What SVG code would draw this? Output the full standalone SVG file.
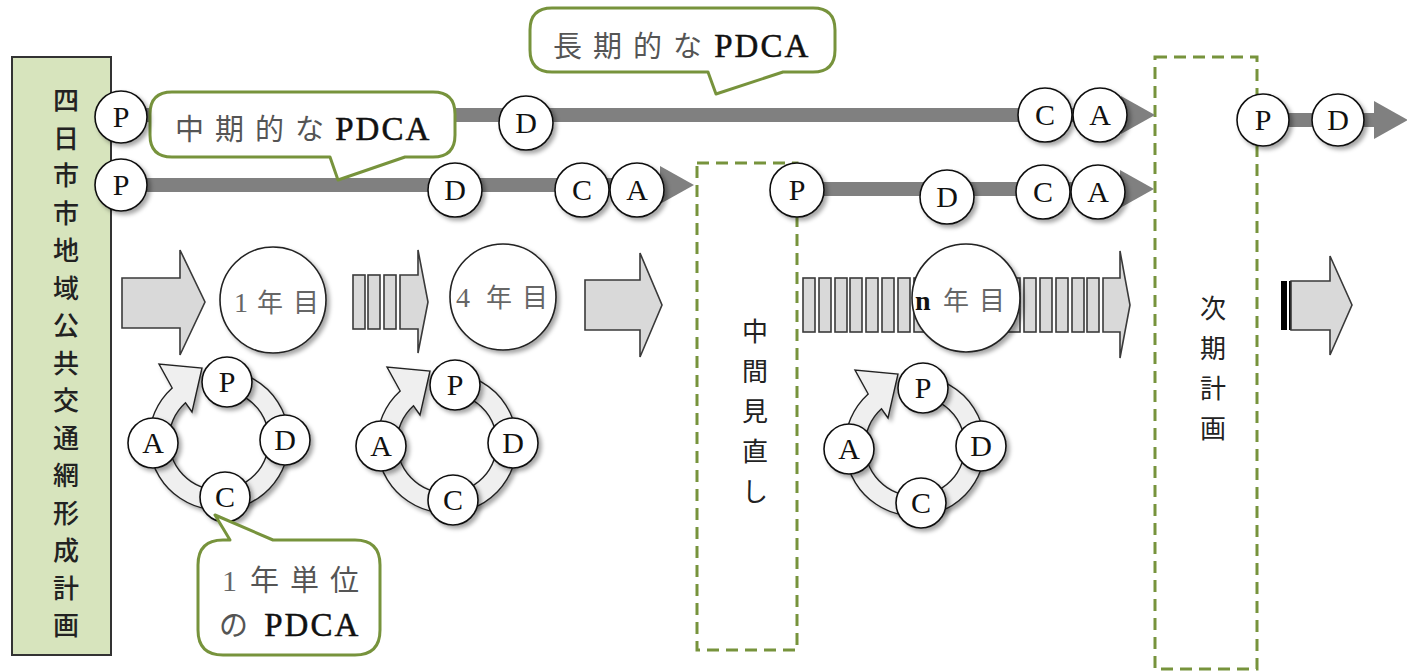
<svg xmlns="http://www.w3.org/2000/svg" xmlns:xlink="http://www.w3.org/1999/xlink" width="1407" height="672" viewBox="0 0 1407 672">
<style>
.bg{fill:#ffffff}
.lc{fill:#ffffff;stroke:#111;stroke-width:1.6;filter:url(#sh)}
.big{fill:#ffffff;stroke:#222;stroke-width:1.6;filter:url(#sh)}
.lt{font-family:"Liberation Serif",serif;font-size:30px;fill:#111;text-anchor:middle}
.line{stroke:#808080;stroke-width:14;fill:none;stroke-linecap:butt;marker-end:url(#ah)}
.blk{fill:#d9d9d9;stroke:#3a3a3a;stroke-width:1.6}
.dash{fill:none;stroke:#77933c;stroke-width:3;stroke-dasharray:12 7}
.bub{fill:#ffffff;stroke:#77933c;stroke-width:3;stroke-linejoin:round}
.jp{font-family:"Noto Sans CJK JP","Noto Sans",sans-serif;font-size:29px;fill:#555;letter-spacing:11px}
.jv{font-family:"Noto Sans CJK JP","Noto Sans",sans-serif;font-size:26px;fill:#222;text-anchor:middle}
.pd{font-family:"Liberation Serif",serif;font-size:33px;fill:#111;letter-spacing:2px;stroke:#111;stroke-width:0.5}
.yr{font-family:"Noto Sans CJK JP","Noto Sans",sans-serif;font-size:26px;fill:#666;letter-spacing:10px}
.num{font-family:"Liberation Serif",serif;font-size:28px;fill:#666}
.ring{fill:#efefef;stroke:#222;stroke-width:1.4;filter:url(#sh)}
</style>
<defs>
<filter id="sh" x="-30%" y="-30%" width="160%" height="160%">
<feDropShadow dx="3" dy="3" stdDeviation="2" flood-color="#000" flood-opacity="0.35"/>
</filter>
<marker id="ah" markerUnits="userSpaceOnUse" markerWidth="34" markerHeight="40" viewBox="0 0 34 40" refX="0" refY="20" orient="auto">
<path d="M0,1 L34,20 L0,39 Z" fill="#808080"/>
</marker>
<path id="ringshape" class="ring" d="M 6.1,-69.7 A 70 70 0 1 1 -46.8,-52.0 L -60,-76 L -17,-72 L -27,-28 L -33.5,-37.2 A 50 50 0 1 0 4.4,-49.8 Z"/>
</defs>
<rect class="bg" x="0" y="0" width="1407" height="672"/>

<g id="plan-box">
<rect x="12" y="57" width="99" height="598" fill="#d7e4bd" stroke="#333" stroke-width="2"/>
<text class="jv" style="font-weight:500"><tspan x="66" y="110">四</tspan><tspan x="66" y="148">日</tspan><tspan x="66" y="185">市</tspan><tspan x="66" y="223">市</tspan><tspan x="66" y="260">地</tspan><tspan x="66" y="298">域</tspan><tspan x="66" y="335">公</tspan><tspan x="66" y="373">共</tspan><tspan x="66" y="410">交</tspan><tspan x="66" y="448">通</tspan><tspan x="66" y="485">網</tspan><tspan x="66" y="523">形</tspan><tspan x="66" y="560">成</tspan><tspan x="66" y="598">計</tspan><tspan x="66" y="635">画</tspan></text>
</g>

<g id="midterm-review">
<rect class="dash" x="697" y="163" width="100" height="487"/>
<text class="jv"><tspan x="755" y="341">中</tspan><tspan x="755" y="381">間</tspan><tspan x="755" y="421">見</tspan><tspan x="755" y="461">直</tspan><tspan x="755" y="501">し</tspan></text>
</g>

<g id="next-plan">
<rect class="dash" x="1155" y="57" width="102" height="612"/>
<text class="jv"><tspan x="1213" y="318">次</tspan><tspan x="1213" y="358">期</tspan><tspan x="1213" y="398">計</tspan><tspan x="1213" y="438">画</tspan></text>
</g>

<g id="connectors">
<line class="line" x1="121" y1="115" x2="1121" y2="115"/>
<line class="line" x1="121" y1="185" x2="660" y2="185"/>
<line class="line" x1="797" y1="189" x2="1120" y2="189"/>
<line class="line" x1="1263" y1="120" x2="1374" y2="120"/>
</g>

<g id="long-term-bubble">
<path class="bub" d="M 552,8 H 813 Q 835,8 835,30 V 50 Q 835,72 813,72 H 783 L 716,94 L 708,72 H 552 Q 530,72 530,50 V 30 Q 530,8 552,8 Z"/>
<text y="57"><tspan class="jp" x="553">長期的な</tspan><tspan class="pd" x="704"> PDCA</tspan></text>
</g>

<g id="mid-term-bubble">
<path class="bub" d="M 172,92 H 433 Q 455,92 455,114 V 135 Q 455,157 433,157 H 405 L 338,180 L 330,157 H 172 Q 150,157 150,135 V 114 Q 150,92 172,92 Z"/>
<text y="140"><tspan class="jp" x="175">中期的な</tspan><tspan class="pd" x="325"> PDCA</tspan></text>
</g>

<g id="row1-nodes">
<circle class="lc" cx="121" cy="117" r="26"/><text class="lt" x="121" y="127">P</text>
<circle class="lc" cx="526" cy="123" r="27"/><text class="lt" x="526" y="133">D</text>
<circle class="lc" cx="1045" cy="115" r="27"/><text class="lt" x="1045" y="125">C</text>
<circle class="lc" cx="1100" cy="115" r="27"/><text class="lt" x="1100" y="125">A</text>
</g>
<g id="row2-nodes">
<circle class="lc" cx="121" cy="185" r="26"/><text class="lt" x="121" y="195">P</text>
<circle class="lc" cx="455" cy="190" r="27"/><text class="lt" x="455" y="200">D</text>
<circle class="lc" cx="582" cy="190" r="27"/><text class="lt" x="582" y="200">C</text>
<circle class="lc" cx="637" cy="190" r="27"/><text class="lt" x="637" y="200">A</text>
</g>
<g id="row3-nodes">
<circle class="lc" cx="797" cy="190" r="27"/><text class="lt" x="797" y="200">P</text>
<circle class="lc" cx="947" cy="197" r="27"/><text class="lt" x="947" y="207">D</text>
<circle class="lc" cx="1043" cy="192" r="27"/><text class="lt" x="1043" y="202">C</text>
<circle class="lc" cx="1098" cy="192" r="27"/><text class="lt" x="1098" y="202">A</text>
</g>
<g id="row4-nodes">
<circle class="lc" cx="1263" cy="120" r="26"/><text class="lt" x="1263" y="130">P</text>
<circle class="lc" cx="1338" cy="120" r="26"/><text class="lt" x="1338" y="130">D</text>
</g>

<g id="year1">
<path class="blk" d="M122,278 H180 V250 L205,302 L180,355 V328 H122 Z"/>
<circle class="big" cx="273" cy="300" r="53"/>
<text y="312"><tspan class="num" x="234">1 </tspan><tspan class="yr" x="257">年目</tspan></text>
</g>

<g id="year4">
<rect class="blk" x="353" y="275" width="12" height="54"/>
<rect class="blk" x="368" y="275" width="12" height="54"/>
<rect class="blk" x="384" y="275" width="12" height="54"/>
<path class="blk" d="M400,275 H418 V250 L428,302 L418,353 V329 H400 Z"/>
<circle class="big" cx="503" cy="297" r="53"/>
<text y="307"><tspan class="num" x="456">4 </tspan><tspan class="yr" x="486">年目</tspan></text>
<path class="blk" d="M585,280 H640 V253 L662,305 L640,357 V330 H585 Z"/>
</g>

<g id="yearn">
<rect class="blk" x="803" y="278" width="12" height="54"/>
<rect class="blk" x="819" y="278" width="12" height="54"/>
<rect class="blk" x="835" y="278" width="12" height="54"/>
<rect class="blk" x="850" y="278" width="12" height="54"/>
<rect class="blk" x="866" y="278" width="12" height="54"/>
<rect class="blk" x="882" y="278" width="12" height="54"/>
<rect class="blk" x="898" y="278" width="12" height="54"/>
<rect class="blk" x="914" y="278" width="12" height="54"/>
<rect class="blk" x="1008" y="278" width="12" height="54"/>
<rect class="blk" x="1024" y="278" width="12" height="54"/>
<rect class="blk" x="1040" y="278" width="12" height="54"/>
<rect class="blk" x="1056" y="278" width="12" height="54"/>
<rect class="blk" x="1072" y="278" width="12" height="54"/>
<rect class="blk" x="1087" y="278" width="12" height="54"/>
<path class="blk" d="M1103,278 H1120 V251 L1130,305 L1120,358 V332 H1103 Z"/>
<circle class="big" cx="966" cy="298" r="54"/>
<text y="310"><tspan class="pd" x="915" style="font-size:28px;font-weight:bold;stroke:none">n </tspan><tspan class="yr" x="943">年目</tspan></text>
</g>

<g id="next-arrow">
<rect x="1281" y="281" width="6" height="49" fill="#000"/>
<rect x="1289" y="281" width="2" height="49" fill="#000"/>
<path class="blk" d="M1291,281 H1330 V256 L1352,305 L1330,355 V330 H1291 Z"/>
</g>

<g id="cycle1">
<use href="#ringshape" x="219" y="440"/>
<circle class="lc" cx="227" cy="382" r="25"/><text class="lt" x="227" y="392">P</text>
<circle class="lc" cx="285" cy="440" r="25"/><text class="lt" x="285" y="450">D</text>
<circle class="lc" cx="225" cy="497" r="25"/><text class="lt" x="225" y="507">C</text>
<circle class="lc" cx="153" cy="443" r="25"/><text class="lt" x="153" y="453">A</text>
</g>
<g id="cycle2">
<use href="#ringshape" x="447" y="443"/>
<circle class="lc" cx="455" cy="385" r="25"/><text class="lt" x="455" y="395">P</text>
<circle class="lc" cx="513" cy="443" r="25"/><text class="lt" x="513" y="453">D</text>
<circle class="lc" cx="453" cy="500" r="25"/><text class="lt" x="453" y="510">C</text>
<circle class="lc" cx="381" cy="446" r="25"/><text class="lt" x="381" y="456">A</text>
</g>
<g id="cycle3">
<use href="#ringshape" x="915" y="446"/>
<circle class="lc" cx="923" cy="388" r="25"/><text class="lt" x="923" y="398">P</text>
<circle class="lc" cx="981" cy="446" r="25"/><text class="lt" x="981" y="456">D</text>
<circle class="lc" cx="921" cy="503" r="25"/><text class="lt" x="921" y="513">C</text>
<circle class="lc" cx="849" cy="449" r="25"/><text class="lt" x="849" y="459">A</text>
</g>

<g id="annual-bubble">
<path class="bub" d="M 223,540 H 230 L 215,515 L 273,540 H 355 Q 380,540 380,565 V 630 Q 380,655 355,655 H 223 Q 198,655 198,630 V 565 Q 198,540 223,540 Z"/>
<text y="591"><tspan class="num" x="222" style="font-size:30px">1 </tspan><tspan class="jp" x="250">年単位</tspan></text>
<text y="636"><tspan class="jp" x="219" style="letter-spacing:0">の</tspan><tspan class="pd" x="254"> PDCA</tspan></text>
</g>
</svg>
